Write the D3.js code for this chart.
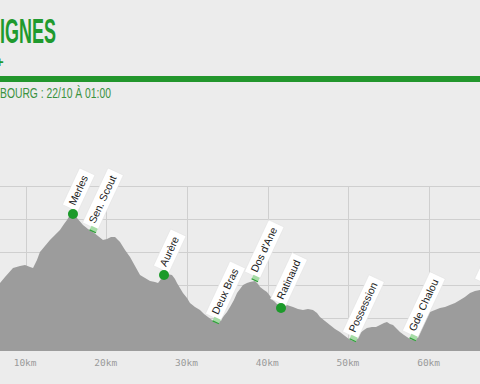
<!DOCTYPE html>
<html><head><meta charset="utf-8">
<script src="https://cdn.jsdelivr.net/npm/d3@7"></script>
<style>
html,body{margin:0;padding:0;background:#ececec;overflow:hidden;}
svg{display:block;}
</style></head>
<body>
<svg id="c" width="480" height="384"></svg>
<script>
// ---- DATA ----
const titleText = "IGNES";
const statsText = "+";
const startText = "BOURG : 22/10 À 01:00";

const profileKm = [6.46,6.83,7.45,8.44,9.31,9.93,10.55,10.92,11.41,11.78,12.40,13.02,13.64,14.26,14.76,15.13,15.50,15.87,16.37,17.11,17.73,18.35,18.97,19.59,20.09,20.58,21.08,21.70,22.32,22.94,23.56,24.18,24.80,25.42,26.03,26.41,26.78,27.15,27.52,28.14,28.51,28.76,29.13,29.50,30.00,30.37,30.99,31.61,32.11,32.60,33.10,33.59,33.97,34.46,34.96,35.33,35.82,36.20,36.57,36.94,37.43,37.81,38.43,38.80,39.05,39.54,39.91,40.29,40.66,41.15,41.65,42.02,42.39,42.76,43.14,43.75,44.37,44.99,45.61,46.11,46.48,47.10,47.72,48.34,48.95,49.58,50.07,50.57,51.07,51.44,51.93,52.30,52.92,53.42,53.92,54.41,54.78,55.15,55.53,56.02,56.39,56.89,57.26,57.63,58.00,58.38,58.87,59.49,60.11,60.73,61.35,61.97,62.58,63.21,63.83,64.44,65.07,65.68,66.31,67.30,68.17];
const profileEle = [985,1030,1121,1257,1288,1303,1273,1257,1379,1500,1591,1682,1757,1833,1924,1985,2060,2076,2015,1909,1848,1803,1742,1682,1697,1727,1727,1651,1530,1424,1288,1151,1106,1061,1045,1030,1091,1151,1167,1151,1091,1030,954,879,803,727,667,621,561,515,470,424,470,515,591,667,773,879,939,1000,1030,1045,1061,1015,970,924,894,833,773,712,651,682,697,682,667,636,621,636,621,576,515,455,394,333,288,227,182,152,212,273,318,348,364,364,394,424,439,409,394,333,288,242,212,182,167,258,364,485,591,621,651,667,697,727,773,818,879,909,924,970,1045];

const markerNames = ["Merles","Sen. Scout","Aurère","Deux Bras","Dos d'Ane","Ratinaud","Possession","Gde Chalou","Colorado"];
const markerKm    = [15.87, 18.35, 27.15, 33.59, 38.43, 41.65, 50.57, 58.00, 66.95];
const markerKind  = ["dot","flag","dot","flag","flag","dot","flag","flag","flag"];

const xTicks = [10,20,30,40,50,60];
const xGrid  = [0,10,20,30,40,50,60,70];
const yGrid  = [500,1000,1500,2000,2500];

// ---- DRAW ----
const svg = d3.select("#c");
const green = "#1f9a2e";
const FONT = "Liberation Sans, Arial, sans-serif";

// header
const title = svg.append("text").text(titleText)
  .attr("font-family",FONT).attr("font-weight","bold")
  .attr("font-size",36).attr("fill",green);
const sxT = 56 / title.node().getComputedTextLength();
title.attr("transform",`translate(0,43) scale(${sxT},1)`);

svg.append("text").text(statsText)
  .attr("font-family",FONT).attr("font-weight","bold")
  .attr("font-size",14).attr("fill",green)
  .attr("transform","translate(-4.5,67)");

svg.append("rect").attr("x",0).attr("y",76).attr("width",480).attr("height",6).attr("fill","#22962c");

const sub = svg.append("text").text(startText)
  .attr("font-family",FONT).attr("font-size",14)
  .attr("fill","#3a923f");
const sxS = 111 / sub.node().getComputedTextLength();
sub.attr("transform",`translate(0,97.5) scale(${sxS},1)`);

// scales
const x = d3.scaleLinear().domain([0,70]).range([-55.1, -55.1 + 70*8.07]);
const y = d3.scaleLinear().domain([0,2500]).range([351,186]);

// grid
svg.append("g").selectAll("line").data(yGrid).join("line")
  .attr("x1",0).attr("x2",480).attr("y1",d=>Math.round(y(d))+0.5).attr("y2",d=>Math.round(y(d))+0.5)
  .attr("stroke","#cfcfcf").attr("stroke-width",1);
svg.append("g").selectAll("line").data(xGrid).join("line")
  .attr("x1",d=>Math.round(x(d))+0.5).attr("x2",d=>Math.round(x(d))+0.5)
  .attr("y1",y(2500)).attr("y2",y(0))
  .attr("stroke","#cfcfcf").attr("stroke-width",1);

// area
const prof = profileKm.map((k,i)=>({km:k, ele:profileEle[i]}));
svg.append("path").datum(prof)
  .attr("d", d3.area().x(d=>x(d.km)).y0(y(0)).y1(d=>y(d.ele)))
  .attr("fill","#9c9c9c");

// axis labels
const axis = d3.axisBottom(x).tickValues(xTicks).tickFormat(d=>d+"km").tickSize(0).tickPadding(0);
const ax = svg.append("g").attr("transform",`translate(-1,${y(0)+8})`).call(axis);
ax.select(".domain").remove();
ax.selectAll("text").attr("font-family","DejaVu Sans Mono, monospace").attr("font-size",9.5)
  .attr("fill","#9a9a9a").attr("dy","0.71em");

// markers
const bis = d3.bisector(d=>d.km).left;
function eleAt(k){
  const i = Math.max(1, Math.min(prof.length-1, bis(prof,k)));
  const a = prof[i-1], b = prof[i];
  return d3.interpolateNumber(a.ele,b.ele)((k-a.km)/(b.km-a.km));
}
const marks = markerNames.map((n,i)=>({name:n, km:markerKm[i], kind:markerKind[i], ele:eleAt(markerKm[i])}));

const mg = svg.append("g").selectAll("g").data(marks).join("g")
  .attr("transform",d=>`translate(${x(d.km)},${y(d.ele)})`);

mg.each(function(d){
  const g = d3.select(this);
  const lg = g.append("g").attr("transform","rotate(-65)");
  const r = lg.append("rect").attr("x",4).attr("y",-13.5).attr("height",17).attr("fill","#ffffff")
    .attr("stroke","#e0e0e0").attr("stroke-width",0.5);
  const t = lg.append("text").text(d.name).attr("x",8).attr("y",-1.5)
    .attr("font-family",FONT).attr("font-size",10.5).attr("fill","#222");
  r.attr("width", t.node().getComputedTextLength()+9);
  if(d.kind==="flag"){
    lg.append("rect").attr("x",0).attr("y",-4).attr("width",5).attr("height",7)
      .attr("fill","#a6dca6");
    lg.append("line").attr("x1",0.5).attr("x2",0.5).attr("y1",-4).attr("y2",3)
      .attr("stroke","#2f9e3a").attr("stroke-width",1.2);
  }
});
mg.filter(d=>d.kind==="dot").append("circle").attr("r",5).attr("fill","#1c9a2a");
</script>
</body></html>
